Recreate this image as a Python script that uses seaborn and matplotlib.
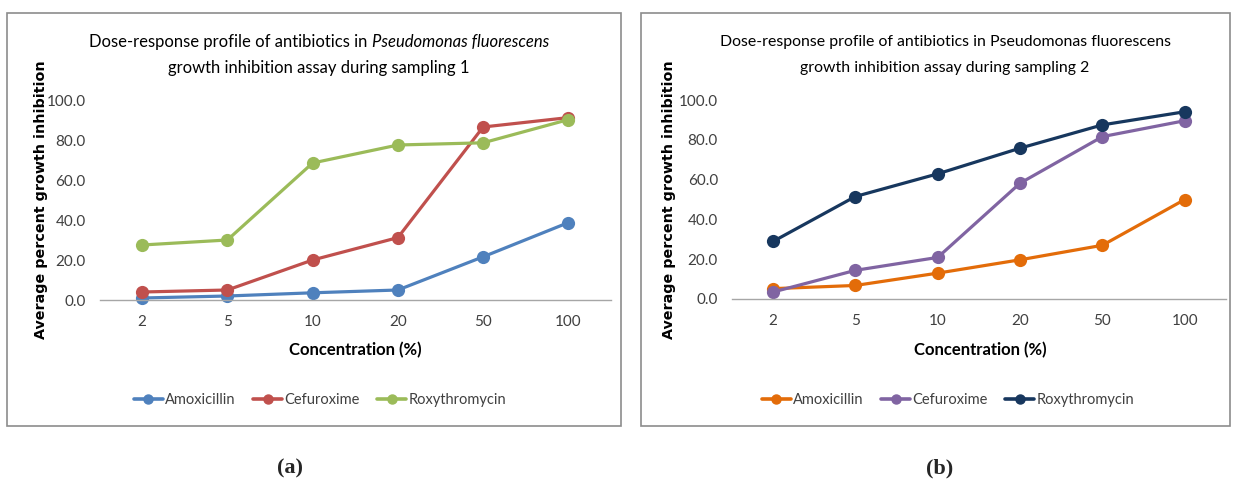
import matplotlib
matplotlib.use("Agg")
import matplotlib.pyplot as plt
import matplotlib.patches as mpatches
import numpy as np
import pandas as pd
import seaborn as sns

concentrations = ["2", "5", "10", "20", "50", "100"]
drugs = ["Amoxicillin", "Cefuroxime", "Roxythromycin"]

# sampling 1
amox_1 = [1.0, 2.0, 3.6, 5.0, 21.6, 38.7]
cefu_1 = [4.0, 5.0, 20.0, 31.2, 86.5, 91.2]
roxy_1 = [27.5, 30.0, 68.5, 77.5, 78.6, 90.2]

# sampling 2
amox_2 = [5.2, 6.8, 13.0, 19.7, 27.0, 50.0]
cefu_2 = [3.5, 14.4, 20.9, 58.2, 81.6, 89.6]
roxy_2 = [28.9, 51.5, 62.9, 75.8, 87.5, 94.1]

colors_1 = ["#4F81BD", "#C0504D", "#9BBB59"]
colors_2 = ["#E36C09", "#8064A2", "#17375E"]

sns.set_theme(style="white")
NARROW = ["Lato", "DejaVu Sans"]
plt.rcParams["font.family"] = NARROW


def build_df(series):
    rows = []
    for drug, vals in zip(drugs, series):
        for c, v in zip(concentrations, vals):
            rows.append({"Concentration": c, "Drug": drug, "Value": v})
    return pd.DataFrame(rows)


def fit_text(fig, renderer, text, target_w, size, **kw):
    # pick a font size so the text spans about target_w pixels
    t = fig.text(0, 0, text, fontsize=size, **kw)
    w = t.get_window_extent(renderer).width
    t.remove()
    return size * target_w / w


def draw_panel(fig, rect, df, palette, box, title_parts, title_w, title_line2, xlab_x, leg_x, ylab_x):
    ax = fig.add_axes(rect)
    sns.lineplot(
        data=df, x="Concentration", y="Value", hue="Drug", hue_order=drugs,
        palette=dict(zip(drugs, palette)), marker="o", markersize=9.5,
        markeredgewidth=0, linewidth=2.3, sort=False, ax=ax, legend=False,
    )
    for ln in ax.lines:
        ln.set_clip_on(False)
    ax.set_xlim(-0.5, 5.5)
    ax.set_ylim(0, 100)
    ax.set_yticks(np.arange(0, 101, 20))
    ax.set_yticklabels([f"{v:.1f}" for v in np.arange(0, 101, 20)])
    ax.set_xticks(range(6))
    ax.set_xticklabels(concentrations)
    ax.set_xticks(np.arange(-0.5, 6, 1), minor=True)
    ax.tick_params(axis="x", which="major", length=0, pad=11, labelsize=11, labelcolor="#404040")
    ax.tick_params(axis="x", which="minor", length=5, width=1, color="#A6A6A6", direction="out")
    ax.tick_params(axis="y", length=0, pad=10, labelsize=11, labelcolor="#404040")
    for s in ["top", "right", "left"]:
        ax.spines[s].set_visible(False)
    ax.spines["bottom"].set_color("#A6A6A6")
    ax.spines["bottom"].set_linewidth(1)
    ax.set_xlabel("")
    ax.set_ylabel("")
    ax.patch.set_alpha(0)

    W, H = fig.get_size_inches() * fig.dpi
    x0, y0, x1, y1 = box
    fig.patches.append(mpatches.Rectangle(
        (x0 / W, 1 - y1 / H), (x1 - x0) / W, (y1 - y0) / H,
        transform=fig.transFigure, fill=False, edgecolor="#8C8C8C", lw=1.2))

    renderer = fig.canvas.get_renderer()
    full = "".join(p[0] for p in title_parts)
    tsize = fit_text(fig, renderer, full, title_w, 12.5)
    cx = title_line2[1]
    texts = []
    for txt, style in title_parts:
        t = fig.text(0, 1 - 42 / H, txt, fontsize=tsize, style=style,
                     color="black", ha="left", va="center")
        texts.append(t)
    widths = [t.get_window_extent(renderer).width for t in texts]
    x = cx - sum(widths) / 2
    for t, w in zip(texts, widths):
        t.set_x(x / W)
        x += w
    fig.text(cx / W, 1 - 68 / H, title_line2[0], fontsize=tsize,
             color="black", ha="center", va="center")

    fig.text(xlab_x / W, 1 - 350 / H, "Concentration (%)", fontsize=12,
             weight="bold", ha="center", va="center", color="black")
    fig.text(ylab_x / W, 1 - 200 / H, "Average percent growth inhibition", fontsize=10.3,
             weight="bold", family=["DejaVu Sans"], color="black",
             rotation=90, ha="center", va="center")

    handles = [plt.Line2D([], [], color=c, lw=2.6, marker="o", markersize=6.5) for c in palette]
    fig.legend(handles, drugs, loc="center", bbox_to_anchor=(leg_x / W, 1 - 400 / H),
               ncol=3, frameon=False, prop={"size": 10.5},
               handlelength=2.0, handletextpad=0.15, columnspacing=1.2,
               labelcolor="#404040")
    return ax


fig = plt.figure(figsize=(12.33, 4.84), dpi=100)
W, H = 1233, 484

df1 = build_df([amox_1, cefu_1, roxy_1])
df2 = build_df([amox_2, cefu_2, roxy_2])

draw_panel(
    fig, [99.5 / W, 184 / H, 511.5 / W, 200 / H], df1, colors_1, (7, 13, 621, 426),
    [("Dose-response profile of antibiotics in ", "normal"), ("Pseudomonas fluorescens", "italic")],
    473, ("growth inhibition assay during sampling 1", 319), 355, 320, 41,
)
draw_panel(
    fig, [731.8 / W, 185 / H, 494.2 / W, 199 / H], df2, colors_2, (641, 13, 1230, 426),
    [("Dose-response profile of antibiotics in Pseudomonas fluorescens", "normal")],
    454, ("growth inhibition assay during sampling 2", 945), 980, 948, 669,
)

fig.text(290 / W, 1 - 468 / H, "(a)", fontsize=16, weight="bold",
         family=["Liberation Serif", "DejaVu Serif"], ha="center", va="center")
fig.text(940 / W, 1 - 468 / H, "(b)", fontsize=16, weight="bold",
         family=["Liberation Serif", "DejaVu Serif"], ha="center", va="center")

fig.savefig("out.png", dpi=100)
